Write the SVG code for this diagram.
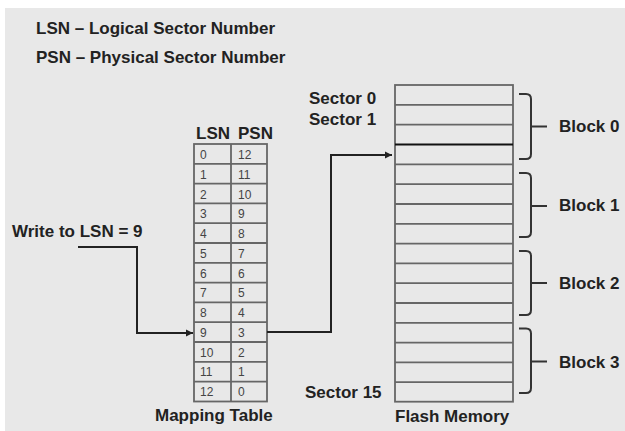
<svg xmlns="http://www.w3.org/2000/svg" width="625" height="431" viewBox="0 0 625 431">
<style>
.t{font-family:"Liberation Sans",Arial,sans-serif;font-weight:bold;font-size:17px;fill:#222}
.n{font-family:"Liberation Sans",Arial,sans-serif;font-size:12px;fill:#444}
.grid{fill:none;stroke:#666;stroke-width:1.8}
.con{fill:none;stroke:#222;stroke-width:2}
.br{fill:none;stroke:#333;stroke-width:2}
</style>
<defs>
<marker id="ah" markerUnits="userSpaceOnUse" markerWidth="8" markerHeight="8" refX="7" refY="4" orient="auto">
<path d="M0,0.5 L7,4 L0,7.5 z" fill="#222"/>
</marker>
</defs>
<rect x="0" y="0" width="625" height="431" fill="#ffffff"/>
<rect x="5" y="8" width="620" height="423" fill="#e8e8e8"/>

<g id="legend">
<text class="t" x="36" y="34">LSN – Logical Sector Number</text>
<text class="t" x="36" y="63">PSN – Physical Sector Number</text>
</g>

<g id="write-label">
<text class="t" x="12" y="237">Write to LSN = 9</text>
</g>

<g id="mapping-table">
<text class="t" x="196" y="139">LSN</text>
<text class="t" x="238" y="139">PSN</text>
<rect class="grid" x="194" y="144" width="73" height="257.5"/>
<path class="grid" d="M231 144 V401.5 M194 163.8 H267 M194 183.6 H267 M194 203.4 H267 M194 223.2 H267 M194 243 H267 M194 262.8 H267 M194 282.6 H267 M194 302.4 H267 M194 322.2 H267 M194 342 H267 M194 361.8 H267 M194 381.6 H267"/>
<g class="n">
<text x="200" y="159">0</text><text x="238" y="159">12</text>
<text x="200" y="179">1</text><text x="238" y="179">11</text>
<text x="200" y="199">2</text><text x="238" y="199">10</text>
<text x="200" y="218">3</text><text x="238" y="218">9</text>
<text x="200" y="238">4</text><text x="238" y="238">8</text>
<text x="200" y="258">5</text><text x="238" y="258">7</text>
<text x="200" y="278">6</text><text x="238" y="278">6</text>
<text x="200" y="297">7</text><text x="238" y="297">5</text>
<text x="200" y="317">8</text><text x="238" y="317">4</text>
<text x="200" y="337">9</text><text x="238" y="337">3</text>
<text x="200" y="357">10</text><text x="238" y="357">2</text>
<text x="200" y="376">11</text><text x="238" y="376">1</text>
<text x="200" y="396">12</text><text x="238" y="396">0</text>
</g>
<text class="t" x="155" y="421">Mapping Table</text>
</g>

<g id="flash-memory">
<text class="t" x="309" y="104">Sector 0</text>
<text class="t" x="309" y="125">Sector 1</text>
<text class="t" x="305" y="398">Sector 15</text>
<rect class="grid" x="395" y="85" width="118" height="316.7"/>
<path class="grid" d="M395 104.8 H513 M395 124.6 H513 M395 164.4 H513 M395 184.2 H513 M395 204 H513 M395 223.8 H513 M395 243.6 H513 M395 263.4 H513 M395 283.2 H513 M395 303 H513 M395 322.8 H513 M395 342.6 H513 M395 362.4 H513 M395 382.2 H513"/>
<path d="M395 144.5 H513" stroke="#111" stroke-width="1.8"/>
<text class="t" x="395" y="422">Flash Memory</text>
</g>

<g id="block0">
<path class="br" d="M519 94 H526 Q531 94 531 99 V154 Q531 159 526 159 H519 M531 126.5 H547"/>
<text class="t" x="559" y="132">Block 0</text>
</g>
<g id="block1">
<path class="br" d="M519 173 H526 Q531 173 531 178 V232 Q531 237 526 237 H519 M531 206 H547"/>
<text class="t" x="559" y="211">Block 1</text>
</g>
<g id="block2">
<path class="br" d="M519 251 H526 Q531 251 531 256 V310 Q531 315 526 315 H519 M531 283 H547"/>
<text class="t" x="559" y="289">Block 2</text>
</g>
<g id="block3">
<path class="br" d="M519 328.5 H526 Q531 328.5 531 333.5 V388 Q531 393 526 393 H519 M531 361.5 H547"/>
<text class="t" x="559" y="368">Block 3</text>
</g>

<g id="connectors">
<path class="con" d="M78 247 H137 V333 H193" marker-end="url(#ah)"/>
<path class="con" d="M267 332 H331 V155 H392" marker-end="url(#ah)"/>
</g>
</svg>
